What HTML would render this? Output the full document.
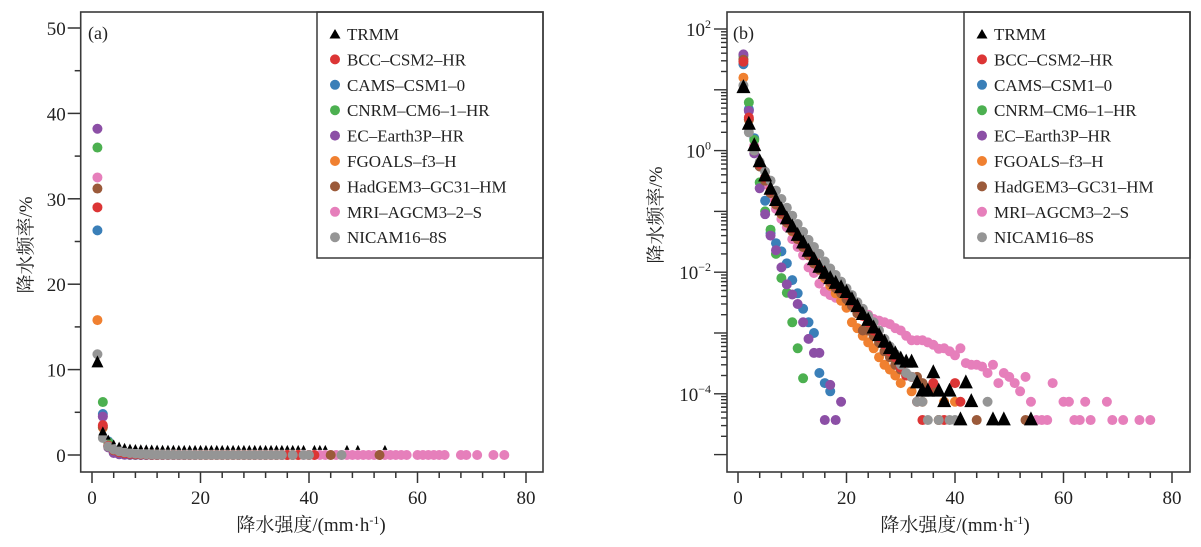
<!DOCTYPE html>
<html><head><meta charset="utf-8">
<style>
html,body{margin:0;padding:0;background:#fff;}
svg{display:block;font-family:"Liberation Serif","Noto Serif CJK SC",serif;}
</style></head>
<body>
<svg id="chart" width="1201" height="547" viewBox="0 0 1201 547" xmlns="http://www.w3.org/2000/svg">
<g id="panelA"></g>
<g id="panelB"></g>
</svg>
<script>
const seriesNames = ["MRI-AGCM3-2-S","FGOALS-f3-H","CAMS-CSM1-0","CNRM-CM6-1-HR","EC-Earth3P-HR","HadGEM3-GC31-HM","BCC-CSM2-HR","NICAM16-8S","TRMM"];
const legendOrder = ["TRMM","BCC-CSM2-HR","CAMS-CSM1-0","CNRM-CM6-1-HR","EC-Earth3P-HR","FGOALS-f3-H","HadGEM3-GC31-HM","MRI-AGCM3-2-S","NICAM16-8S"];
const seriesColors = {"TRMM":"#000","BCC-CSM2-HR":"#dc3535","CAMS-CSM1-0":"#3a7fb8","CNRM-CM6-1-HR":"#4cb050","EC-Earth3P-HR":"#8c4fa6","FGOALS-f3-H":"#f08030","HadGEM3-GC31-HM":"#9b5a3a","MRI-AGCM3-2-S":"#e67fbb","NICAM16-8S":"#959595"};
// frequency (%) for intensity bins 1,2,3,... mm/h
const trmm = [10.8,2.7,1.2,0.65,0.38,0.23,0.15,0.105,0.075,0.055,0.04,0.03,0.022,0.016,0.012,0.0095,0.0078,0.0065,0.0055,0.0046,0.0035,0.0027,0.002,0.0016,0.0012,0.0009,0.0007,0.00055,0.00045,0.00037,0.00033,0.00033,0.00015,0.00011,0.00011,0.00022,0.00011,7.4e-5,0.00011,null,3.7e-5,0.00015,7.4e-5,null,null,null,3.7e-5,null,3.7e-5,null,null,null,null,3.7e-5];
const bcc = [29,3.5,1.1,0.6,0.36,0.22,0.145,0.1,0.072,0.053,0.039,0.029,0.021,0.016,0.012,0.0093,0.0075,0.0062,0.0052,0.0043,0.0033,0.0026,0.0019,0.0015,0.0011,0.00085,0.00065,0.0005,0.0004,0.00027,0.0002,0.00019,7.4e-5,3.7e-5,0.00011,0.00015,null,3.7e-5,null,0.00015,7.4e-5];
const cams = [26.3,4.8,1.6,0.55,0.15,0.044,0.03,0.022,0.014,0.0074,0.0045,0.0025,0.0015,0.001,0.00022,0.00015,0.00011];
const cnrm = [36,6.2,1.5,0.3,0.1,0.05,0.02,0.008,0.0046,0.0015,0.00056,0.00018];
const ecearth = [38.2,4.5,0.9,0.24,0.09,0.04,0.023,0.012,0.0063,0.0043,0.003,0.0015,0.0008,0.00047,0.00047,3.7e-5,0.00014,3.7e-5,7.4e-5];
const fgoals = [15.8,3.2,1.1,0.55,0.33,0.2,0.13,0.09,0.065,0.047,0.035,0.026,0.019,0.014,0.011,0.008,0.006,0.0045,0.0034,0.0026,0.0015,0.0012,0.0009,0.0007,0.00056,0.0004,0.0003,0.00025,0.0002,0.00015,null,0.00011,null,7.4e-5,null,null,3.7e-5,7.4e-5,null,7.4e-5];
const hadgem = [31.2,3.3,1.0,0.55,0.32,0.2,0.13,0.092,0.066,0.048,0.035,0.026,0.019,0.014,0.011,0.0085,0.0068,0.0055,0.0045,0.0036,0.0028,0.0021,0.0011,0.0011,0.0009,0.0007,0.0005,0.0004,0.0003,0.00025,0.0002,0.00019,0.00019,0.00015,0.00011,0.00012,3.7e-5,null,null,null,null,null,null,3.7e-5,null,null,null,null,null,null,null,null,3.7e-5];
const mri = [32.5,4.6,1.2,0.55,0.28,0.17,0.11,0.075,0.055,0.035,0.026,0.019,0.012,0.0097,0.0065,0.0048,0.0042,0.0038,0.0034,0.003,0.0028,0.0026,0.0024,0.002,0.0017,0.0016,0.0015,0.0014,0.0012,0.0011,0.0009,0.00076,0.00076,0.00076,0.0007,0.00064,0.00055,0.00056,0.0005,0.00043,0.00056,0.00032,0.0003,0.0003,0.00028,0.00022,0.0003,0.00015,0.00022,0.00019,0.00015,0.00011,0.00019,7.4e-5,3.7e-5,3.7e-5,3.7e-5,0.00015,null,7.4e-5,7.4e-5,3.7e-5,3.7e-5,7.4e-5,3.7e-5,null,null,7.4e-5,3.7e-5,null,3.7e-5,null,null,3.7e-5,null,3.7e-5];
const nicam = [11.8,2.0,1.0,0.65,0.45,0.32,0.22,0.16,0.115,0.085,0.062,0.046,0.034,0.026,0.02,0.015,0.0115,0.009,0.007,0.0054,0.0042,0.0032,0.0025,0.0019,0.0015,0.0011,0.0008,0.0006,0.00045,0.0003,0.00022,0.00019,7.4e-5,7.4e-5,3.7e-5,null,3.7e-5,null,3.7e-5,3.7e-5,null,null,null,null,null,7.4e-5];
const xTicks = [0,20,40,60,80];
const yTicksA = [0,10,20,30,40,50];
const yExpB = [2,0,-2,-4];

const seriesData = {"TRMM":trmm,"BCC-CSM2-HR":bcc,"CAMS-CSM1-0":cams,"CNRM-CM6-1-HR":cnrm,"EC-Earth3P-HR":ecearth,"FGOALS-f3-H":fgoals,"HadGEM3-GC31-HM":hadgem,"MRI-AGCM3-2-S":mri,"NICAM16-8S":nicam};
const NS="http://www.w3.org/2000/svg";
function mk(parent,tag,attrs,text){const e=document.createElementNS(NS,tag);for(const k in attrs)e.setAttribute(k,attrs[k]);if(text!==undefined)e.textContent=text;parent.appendChild(e);return e;}

const PX0=80.7, PX1=543, PY0=12, PY1=472;
const BX0=727, BX1=1190;
const xa = v => 92 + v*5.425;
const ya = v => 455 - v*8.54;
const xb = v => 738 + v*5.425;
const yb = v => 29 + (2 - Math.log10(v))*60.8;

function frame(g,x0,x1){
  const r=mk(g,'rect',{x:x0,y:PY0,width:x1-x0,height:PY1-PY0,fill:'none',stroke:'#3a3a3a','stroke-width':1.6});
  
  
}
function xAxis(g,xf,cx){
  for(let v=0;v<=80;v+=4){
    const major=v%20===0;
    const t=mk(g,'line',{x1:xf(v),x2:xf(v),y1:PY1,y2:PY1+(major?11:6),stroke:'#333','stroke-width':1.5});
    
    
  }
  xTicks.forEach(v=>{
    const t=mk(g,'text',{x:xf(v),y:504,'text-anchor':'middle','font-size':19,fill:'#222'},String(v));
    
    
  });
  const l=mk(g,'text',{x:cx,y:531,'text-anchor':'middle','font-size':19,fill:'#222'});
  
  
  l.appendChild(document.createTextNode('降水强度/(mm·h'));
  mk(l,'tspan',{'font-size':12,dy:-7},'-1');
  mk(l,'tspan',{dy:7},')');
}
function yTitle(g,x,y){
  const t=mk(g,'text',{x:x,y:y,'text-anchor':'middle','font-size':19,fill:'#222',transform:`rotate(-90 ${x} ${y})`},'降水频率/%');
  
  
}
function legend(g,x1){
  const x0=x1-226;
  const b=mk(g,'rect',{x:x0,y:PY0,width:x1-x0,height:246,fill:'#fff',stroke:'#3a3a3a','stroke-width':1.5});
  
  
  legendOrder.forEach((n,i)=>{
    const y=34+i*25.4;
    const e=mk(g,'g',{});
    
    
    if(n==='TRMM') mk(e,'path',{d:`M${x0+18},${y-5} L${x0+23.5},${y+4.5} L${x0+12.5},${y+4.5} Z`,fill:'#000'});
    else mk(e,'circle',{cx:x0+18,cy:y,r:5,fill:seriesColors[n]});
    mk(e,'text',{x:x0+30,y:y+6,'font-size':17,fill:'#222'},n.replace(/-/g,'–'));
  });
}
function tri(g,x,y,s){return mk(g,'path',{d:`M${x},${y-s*0.62} L${x+s/2},${y+s*0.38} L${x-s/2},${y+s*0.38} Z`,fill:'#000'});}

// ---- Panel A ----
const A=document.getElementById('panelA');
yTitle(A,32,245);
for(let v=0;v<=50;v+=5){
  const major=v%10===0;
  const t=mk(A,'line',{x1:PX0-(major?13:6),x2:PX0,y1:ya(v),y2:ya(v),stroke:'#333','stroke-width':1.5});
  
  
}
yTicksA.forEach(v=>{
  const t=mk(A,'text',{x:PX0-15,y:ya(v)+7,'text-anchor':'end','font-size':19,fill:'#222'},String(v));
  
  
});
xAxis(A,xa,311);
const pa=mk(A,'g',{});


seriesNames.forEach(n=>{
  seriesData[n].forEach((v,i)=>{
    if(v===null) return;
    const x=xa(i+1), y=ya(v);
    let m;
    if(n==='TRMM'){ m = i<2 ? tri(pa,x,y,i===0?12:9) : tri(pa,x,y-7,5); }
    else m=mk(pa,'circle',{cx:x,cy:y,r:5,fill:seriesColors[n]});
    
    
  });
});
legend(A,PX1);
frame(A,PX0,PX1);
const la=mk(A,'text',{x:88,y:39,'font-size':18,fill:'#222'},'(a)');



// ---- Panel B ----
const B=document.getElementById('panelB');
yTitle(B,662,215);
for(let e=2;e>=-5;e--){
  for(let k=1;k<=9;k++){
    const v=k*Math.pow(10,e);
    const y=yb(v);
    if(y<PY0-1||y>PY1) continue;
    const t=mk(B,'line',{x1:BX0-(k===1?13:6),x2:BX0,y1:y,y2:y,stroke:'#333','stroke-width':1.4});
    
    
  }
}
yExpB.forEach(ex=>{
  const t=mk(B,'text',{x:BX0-16,y:yb(Math.pow(10,ex))+7,'text-anchor':'end','font-size':19,fill:'#222'});
  
  
  t.appendChild(document.createTextNode('10'));
  mk(t,'tspan',{'font-size':12,dy:-8},String(ex).replace('-','−'));
});
xAxis(B,xb,955);
const pb=mk(B,'g',{});


seriesNames.forEach(n=>{
  seriesData[n].forEach((v,i)=>{
    if(v===null) return;
    const x=xb(i+1), y=yb(v);
    let m;
    if(n==='TRMM') m=tri(pb,x,y,14);
    else m=mk(pb,'circle',{cx:x,cy:y,r:5,fill:seriesColors[n]});
    
    
  });
});
legend(B,BX1);
frame(B,BX0,BX1);
const lb=mk(B,'text',{x:733,y:39,'font-size':18,fill:'#222'},'(b)');


</script>
</body></html>
